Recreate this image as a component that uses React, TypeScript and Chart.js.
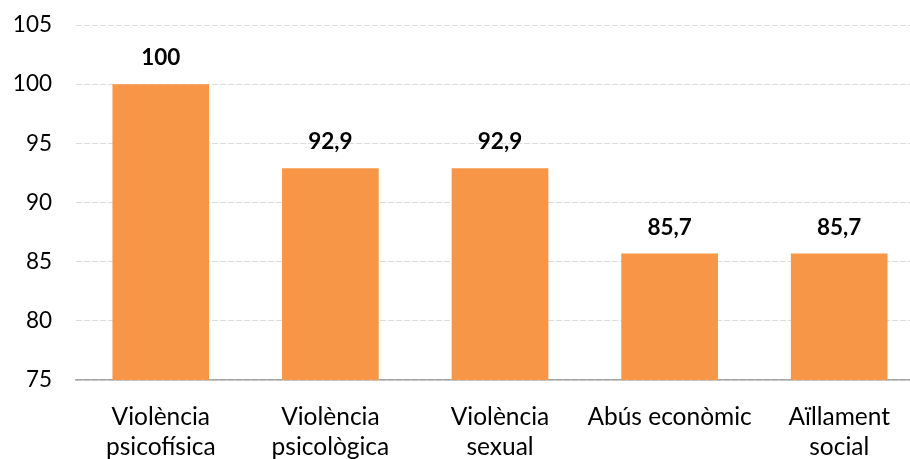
import React, { useEffect, useRef } from "react";
import { Chart, registerables } from "chart.js";

Chart.register(...registerables);

const categories: (string | string[])[] = [
  ["Violència", "psicofísica"],
  ["Violència", "psicològica"],
  ["Violència", "sexual"],
  "Abús econòmic",
  ["Aïllament", "social"],
];
const values = [100, 92.9, 92.9, 85.7, 85.7];
const yMin = 75;
const yMax = 105;
const yStep = 5;

const FONT = "Lato";
const fmt = (v: number) => String(v).replace(".", ",");

const dataLabelPlugin = {
  id: "dataLabels",
  afterDatasetsDraw(chart: any) {
    const ctx = chart.ctx;
    const meta = chart.getDatasetMeta(0);
    ctx.save();
    ctx.font = `bold 22.5px ${FONT}`;
    ctx.fillStyle = "#000";
    ctx.textAlign = "center";
    ctx.textBaseline = "middle";
    meta.data.forEach((el: any, i: number) => {
      ctx.fillText(fmt(values[i]), el.x, el.y - 26);
    });
    ctx.restore();
  },
};

export default function App() {
  const ref = useRef<HTMLCanvasElement>(null);
  useEffect(() => {
    if (!ref.current) return;
    const chart = new Chart(ref.current, {
      type: "bar",
      data: {
        labels: categories,
        datasets: [
          {
            data: values,
            backgroundColor: "#F79646",
            borderWidth: 0,
            barPercentage: 1,
            categoryPercentage: 0.57,
          },
        ],
      },
      options: {
        responsive: false,
        animation: false,
        devicePixelRatio: 1,
        layout: { padding: { top: 25, left: 0, right: 0, bottom: 0 } },
        plugins: { legend: { display: false }, tooltip: { enabled: false } },
        scales: {
          x: {
            grid: { display: false, drawTicks: false },
            border: { display: true, color: "#A6A6A6", width: 1.5 },
            ticks: {
              font: { family: FONT, size: 24.5, lineHeight: 1.22 },
              color: "#000",
              padding: 22,
              maxRotation: 0,
              autoSkip: false,
            },
            afterFit: (s: any) => {
              s.height = 79;
              s.paddingLeft = 0;
              s.paddingRight = 0;
            },
          },
          y: {
            min: yMin,
            max: yMax,
            ticks: {
              stepSize: yStep,
              padding: 24,
              font: { family: FONT, size: 22.5 },
              color: "#000",
            },
            grid: { color: "#DCDCDC", drawTicks: false, lineWidth: 1 },
            border: { display: false, dash: [6, 2] },
            afterFit: (s: any) => {
              s.width = 76;
              s.paddingTop = 0;
              s.paddingBottom = 0;
            },
          },
        },
      },
      plugins: [dataLabelPlugin],
    });
    return () => chart.destroy();
  }, []);
  return (
    <div
      style={{
        position: "fixed",
        left: 0,
        top: 0,
        width: 910,
        height: 459,
        overflow: "hidden",
        background: "#fff",
      }}
    >
      <canvas ref={ref} width={924} height={459} style={{ display: "block" }} />
    </div>
  );
}
